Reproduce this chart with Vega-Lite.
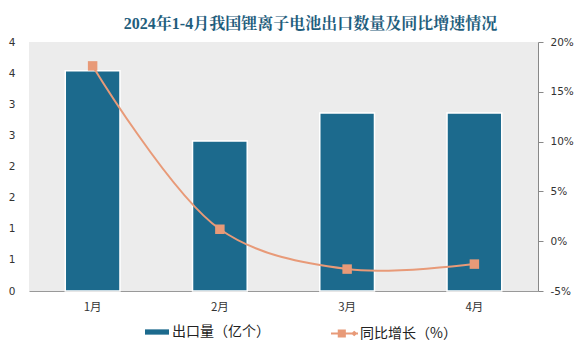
{
  "$schema": "https://vega.github.io/schema/vega-lite/v6.json",
  "autosize": "none",
  "width": 509,
  "height": 249,
  "padding": {"left": 29, "top": 42, "right": 45, "bottom": 69},
  "background": "white",
  "config": {
    "view": {"fill": "#ececec", "stroke": null},
    "axis": {"labelFont": "DejaVu Sans", "labelFontSize": 10.5, "labelColor": "#333333", "grid": false}
  },
  "title": {
    "text": "2024年1-4月我国锂离子电池出口数量及同比增速情况",
    "font": "Liberation Serif, Noto Serif CJK SC, Noto Sans CJK SC",
    "fontSize": 16,
    "fontWeight": "bold",
    "color": "#1F5E7D",
    "anchor": "middle",
    "dx": 27,
    "offset": 5
  },
  "data": {
    "values": [
      {"month": "1月", "qty": 3.54, "yoy": 17.6},
      {"month": "2月", "qty": 2.41, "yoy": 1.2},
      {"month": "3月", "qty": 2.86, "yoy": -2.8},
      {"month": "4月", "qty": 2.86, "yoy": -2.3}
    ]
  },
  "encoding": {
    "x": {
      "field": "month",
      "type": "nominal",
      "sort": null,
      "scale": {"paddingInner": 0.57, "paddingOuter": 0.285},
      "axis": {"title": null, "labelAngle": 0, "ticks": false, "domainColor": "#999999", "labelPadding": 10, "labelFont": "Noto Sans CJK SC", "labelFontSize": 11.5}
    }
  },
  "layer": [
    {
      "mark": {"type": "bar", "stroke": "white", "strokeWidth": 1.5},
      "encoding": {
        "y": {
          "field": "qty",
          "type": "quantitative",
          "scale": {"domain": [0, 4], "nice": false},
          "axis": {"title": null, "values": [0, 0.5, 1, 1.5, 2, 2.5, 3, 3.5, 4], "format": ".0f", "domain": false, "ticks": false, "labelPadding": 14}
        },
        "fill": {
          "datum": "出口量（亿个）",
          "type": "nominal",
          "scale": {"range": ["#1C6A8D"]},
          "legend": {
            "title": null,
            "orient": "none",
            "legendX": 116,
            "legendY": 278,
            "symbolType": "M-1,-0.22H1V0.22H-1Z",
            "symbolSize": 576,
            "symbolStrokeWidth": 0,
            "symbolOpacity": 1,
            "labelFont": "Noto Sans CJK SC",
            "labelFontSize": 14,
            "labelColor": "#222222",
            "labelOffset": 3
          }
        }
      }
    },
    {
      "mark": {"type": "line", "strokeWidth": 2, "interpolate": "catmull-rom"},
      "encoding": {
        "y": {
          "field": "yoy",
          "type": "quantitative",
          "scale": {"domain": [-5, 20], "nice": false},
          "axis": {"title": null, "orient": "right", "values": [-5, 0, 5, 10, 15, 20], "labelExpr": "datum.value + '%'", "domainColor": "#888888", "tickColor": "#888888", "tickSize": 5, "labelPadding": 7}
        },
        "color": {
          "datum": "同比增长（%）",
          "type": "nominal",
          "scale": {"range": ["#E89A78"]},
          "legend": {
            "title": null,
            "orient": "none",
            "legendX": 302,
            "legendY": 278,
            "symbolType": "M-1,-0.08H1V0.08H-1Z M-0.5,-0.3H0.1V0.3H-0.5Z M0.72,-0.2L0.96,0L0.72,0.2L0.48,0Z",
            "symbolSize": 729,
            "symbolStrokeWidth": 0,
            "symbolFillColor": "#E89A78",
            "symbolOpacity": 1,
            "labelFont": "Noto Sans CJK SC",
            "labelFontSize": 14,
            "labelColor": "#222222",
            "labelOffset": 2
          }
        }
      }
    },
    {
      "mark": {"type": "point", "shape": "square", "filled": true, "size": 90, "opacity": 1},
      "encoding": {
        "y": {"field": "yoy", "type": "quantitative", "scale": {"domain": [-5, 20], "nice": false}, "axis": null},
        "color": {"datum": "同比增长（%）", "type": "nominal"}
      }
    }
  ],
  "resolve": {"scale": {"y": "independent"}}
}
